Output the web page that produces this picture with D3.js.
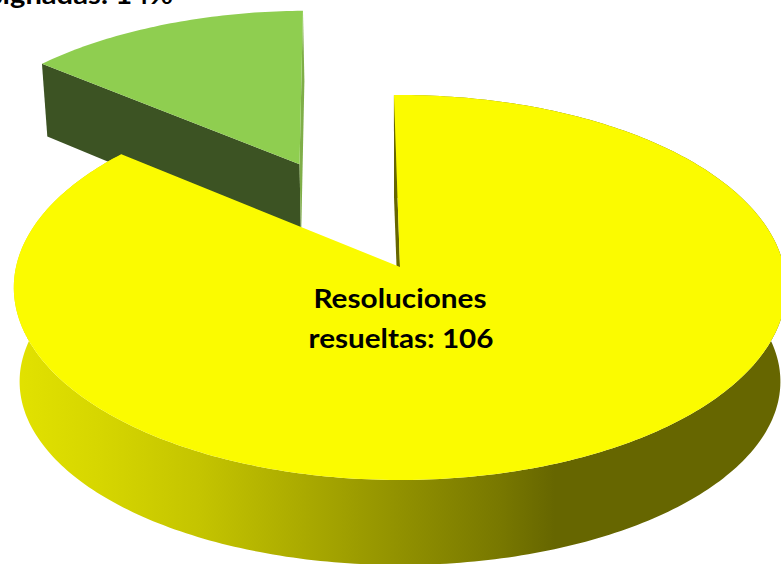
<!DOCTYPE html>
<html><head><meta charset="utf-8">
<script src="https://cdn.jsdelivr.net/npm/d3@7/dist/d3.min.js"></script>
<style>html,body{margin:0;padding:0;background:#fff;overflow:hidden}svg{display:block}</style>
</head><body><svg id="c" width="781" height="564"></svg>
<script>
const categories = ["Resoluciones resueltas", "Resoluciones asignadas"];
const values = [106, 17];
const labelLines = [["Resoluciones", "resueltas: 106"], ["asignadas: 14%"]];
const sideStops = [[15,"#e2e200"],[100,"#d6d600"],[200,"#c4c400"],[300,"#abab00"],[400,"#919100"],[500,"#787800"],[555,"#666600"],[781,"#666600"]];

const W = 781, H = 564;
const cx = 400, cy = 267, rx = 384, ry = 190.3, persp = 0.1065;
const explode = 0.636, rotation = -1.0 * Math.PI / 180;
const topPlane = { sx: 1, sy: 1, d: 0 };
const yellowBase = { sx: 0.985, sy: 0.9, d: 95 };
const greenBase = { sx: 0.985, sy: 1, d: 82 };

const svg = d3.select("#c");
const defs = svg.append("defs");
const grad = defs.append("linearGradient").attr("id", "side").attr("gradientUnits", "userSpaceOnUse")
  .attr("x1", 0).attr("x2", W).attr("y1", 0).attr("y2", 0);
sideStops.forEach(s => grad.append("stop").attr("offset", s[0] / W).attr("stop-color", s[1]));

const arcs = d3.pie().sort(null).value(d => d).startAngle(rotation).endAngle(rotation + 2 * Math.PI)(values);

function project(u, v, p) {
  const w = 1 + persp * v;
  return [cx + p.sx * rx * u / w, cy + (-ry * p.sy * v + p.d) / w];
}
const line = d3.line();
function rim(a0, a1, ox, oy, p) {
  const n = Math.max(2, Math.ceil(Math.abs(a1 - a0) * 60));
  return d3.range(n + 1).map(i => {
    const a = a0 + (a1 - a0) * i / n;
    return project(ox + Math.sin(a), oy + Math.cos(a), p);
  });
}

const [yel, grn] = arcs;
const gMid = (grn.startAngle + grn.endAngle) / 2;
const gx = Math.sin(gMid) * explode, gy = Math.cos(gMid) * explode;

// green slice: cut faces then top
const gTop = rim(grn.startAngle, grn.endAngle, gx, gy, topPlane);
const gLow = rim(grn.startAngle, grn.endAngle, gx, gy, greenBase);
const gApexT = project(gx, gy, topPlane), gApexB = project(gx, gy, greenBase);
svg.append("path").attr("fill", "#3c5323")
  .attr("d", line([gTop[0], gApexT, gApexB, gLow[0]]) + "Z");
svg.append("path").attr("fill", "#7fae48")
  .attr("d", line([gTop[gTop.length - 1], gApexT, gApexB, gLow[gLow.length - 1]]) + "Z");
svg.append("path").attr("fill", "#8fce50")
  .attr("d", line([...gTop, gApexT]) + "Z");

// yellow slice: side wall as one path of quads, cut face, top
const yTop = rim(yel.startAngle, yel.endAngle, 0, 0, topPlane);
const yLow = rim(yel.startAngle, yel.endAngle, 0, 0, yellowBase);
const wall = d3.pairs(d3.range(yTop.length))
  .map(([a, b]) => line([yTop[a], yTop[b], yLow[b], yLow[a]]) + "Z").join("");
svg.append("path").attr("fill", "url(#side)").attr("d", wall);
svg.append("path").attr("fill", "#666600")
  .attr("d", line([yTop[0], project(0, 0, topPlane), project(0, 0, yellowBase), yLow[0]]) + "Z");
svg.append("path").attr("fill", "#fbfb00")
  .attr("d", line([...yTop, project(0, 0, topPlane)]) + "Z");

const font = "Lato, 'Open Sans', sans-serif";
const lab = svg.append("g").attr("font-family", font).attr("font-weight", 700).attr("fill", "#000").attr("font-size", 27);
const textFit = (x, y, t, len, anchor) => lab.append("text").attr("x", x).attr("y", y).attr("text-anchor", anchor)
  .attr("textLength", len).attr("lengthAdjust", "spacingAndGlyphs").text(t);
textFit(400, 308, labelLines[0][0], 173, "middle");
textFit(401, 348, labelLines[0][1], 185, "middle");
textFit(173, 4, labelLines[1][0], 198, "end");
</script></body></html>
